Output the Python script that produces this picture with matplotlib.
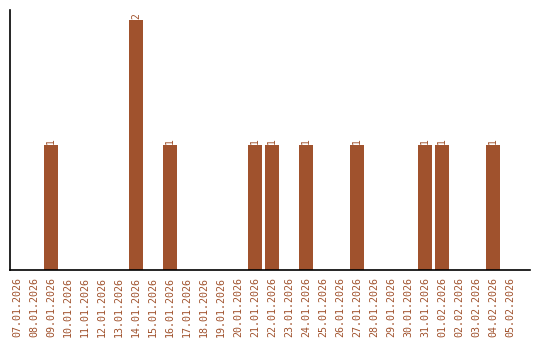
import matplotlib
matplotlib.use("Agg")
import matplotlib.pyplot as plt

dates = ["07.01.2026", "08.01.2026", "09.01.2026", "10.01.2026", "11.01.2026",
         "12.01.2026", "13.01.2026", "14.01.2026", "15.01.2026", "16.01.2026",
         "17.01.2026", "18.01.2026", "19.01.2026", "20.01.2026", "21.01.2026",
         "22.01.2026", "23.01.2026", "24.01.2026", "25.01.2026", "26.01.2026",
         "27.01.2026", "28.01.2026", "29.01.2026", "30.01.2026", "31.01.2026",
         "01.02.2026", "02.02.2026", "03.02.2026", "04.02.2026", "05.02.2026"]
counts = [0, 0, 1, 0, 0, 0, 0, 2, 0, 1,
          0, 0, 0, 0, 1, 1, 0, 1, 0, 0,
          1, 0, 0, 0, 1, 1, 0, 0, 1, 0]

color = "#A0522D"
fig = plt.figure(figsize=(5.4, 3.4), dpi=100)
ax = fig.add_axes([10/540, 70/340, 520/540, 260/340])
x = list(range(len(dates)))
bars = ax.bar(x, counts, width=0.82, color=color)
for xi, v in zip(x, counts):
    if v > 0:
        ax.text(xi, v + 0.01, str(v), rotation=90, ha="center", va="bottom",
                color=color, fontsize=7, family="DejaVu Sans Mono")
ax.set_xlim(-0.41, 30.18)
ax.set_ylim(0, 2.08)
ax.set_xticks(x)
ax.set_xticklabels(dates, rotation=90, color=color, fontsize=7.2,
                   family="DejaVu Sans Mono")
ax.tick_params(axis="x", length=0, pad=5)
ax.set_yticks([])
for s in ["top", "right"]:
    ax.spines[s].set_visible(False)
ax.spines["left"].set_linewidth(1.2)
ax.spines["bottom"].set_linewidth(1.2)
fig.savefig("out.png", dpi=100)
